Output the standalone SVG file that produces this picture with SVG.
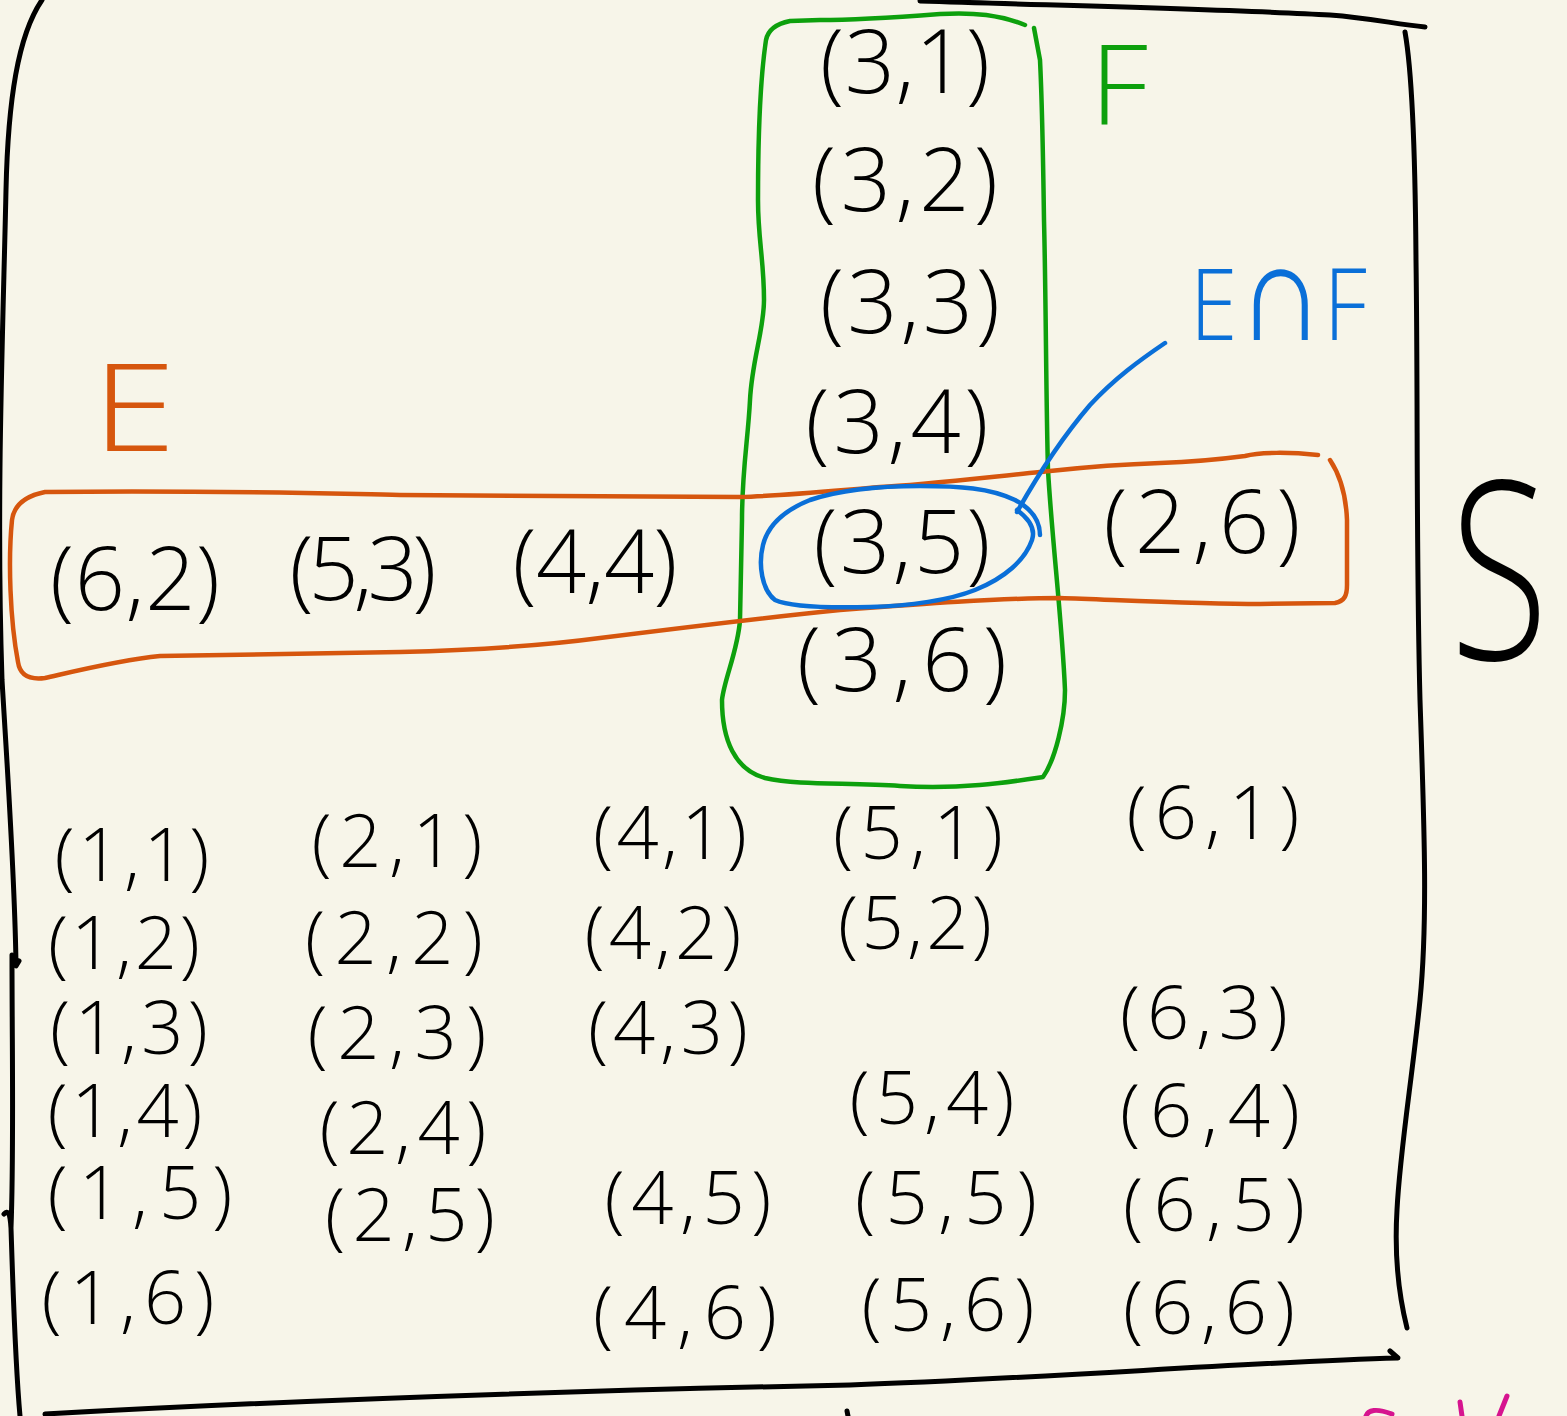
<svg xmlns="http://www.w3.org/2000/svg" width="1567" height="1416" viewBox="0 0 1567 1416">
  <style>
    .ink { fill: none; stroke-linecap: round; stroke-linejoin: round; }
    .frame { stroke: #000; stroke-width: 5; }
    .green { stroke: #0DA00D; stroke-width: 4.5; }
    .orange { stroke: #D6560E; stroke-width: 4.5; }
    .blue { stroke: #0A6FD8; stroke-width: 4.5; }
    .pink { stroke: #D6148F; stroke-width: 5; }
    text { font-family: "Open Sans", "Liberation Sans", sans-serif; font-weight: 300; }
    .t { font-size: 88px; fill: #000; text-anchor: middle; }
    .b { font-size: 74px; fill: #000; text-anchor: middle; }
  </style>
  <rect width="1567" height="1416" fill="#F7F5E9"/>

  <!-- sample space S: hand-drawn frame -->
  <g id="sample-space">
    <path class="ink frame" d="M42,0 C18,35 8,100 6,190 C3,330 -4,500 2,680 C8,780 15,880 16,966 l3,-5"/>
    <path class="ink frame" d="M12,955 C12,1050 14,1150 11,1228 M4,1214 C8,1210 10,1212 11,1228 C13,1290 15,1360 20,1416"/>
    <path class="ink frame" d="M920,1 C1080,6 1250,10 1330,15 C1370,18 1395,24 1425,27"/>
    <path class="ink frame" d="M1405,32 C1410,60 1415,120 1416,260 C1418,400 1416,550 1420,700 C1424,820 1428,920 1420,1000 C1412,1080 1400,1150 1397,1210 C1394,1260 1400,1300 1407,1328"/>
    <path class="ink frame" d="M45,1414 C300,1400 600,1390 850,1385 C1050,1378 1250,1362 1398,1358 l-8,-7"/>
    <path class="ink frame" d="M847,1411 L848,1416"/>
    <text transform="translate(1450,660) scale(0.72,1)" font-size="250" fill="#000">S</text>
  </g>

  <!-- event F -->
  <g id="event-F">
    <path class="ink green" d="M1025,25 C1000,15 975,12 940,14 C900,17 860,20 820,20 L790,21 C775,24 768,30 766,40 C760,80 758,130 758,200 C758,240 764,260 764,300 C764,330 752,360 750,400 C748,440 742,470 742,520 L740,620 C738,650 724,680 722,700 C722,740 735,770 765,778 C800,786 850,782 900,786 C960,790 1010,782 1043,777 C1055,760 1065,720 1065,690 C1062,620 1052,540 1048,470 C1046,400 1046,300 1044,220 C1043,150 1042,100 1040,60 L1034,28"/>
    <text x="1090" y="124" font-size="110" textLength="58" lengthAdjust="spacingAndGlyphs" fill="#0DA00D">F</text>
  </g>

  <!-- event E -->
  <g id="event-E">
    <path class="ink orange" d="M1318,455 C1290,452 1260,452 1245,456 C1215,460 1190,462 1160,463 C1100,465 1060,470 1040,472 C980,478 920,485 880,487 C820,492 780,496 740,497 L400,495 C300,493 200,490 45,492 C25,496 14,505 12,520 C8,560 10,620 18,662 C20,676 30,680 45,678 C80,670 120,660 160,656 L400,652 C480,650 540,646 600,638 C680,628 760,618 840,610 C920,604 1000,598 1060,598 C1120,600 1200,604 1260,604 L1335,603 C1345,601 1347,595 1347,585 L1347,520 C1346,495 1340,475 1330,460"/>
    <text x="92" y="451" font-size="122" textLength="84" lengthAdjust="spacingAndGlyphs" fill="#D6560E">E</text>
  </g>

  <!-- intersection E∩F -->
  <g id="event-EF">
    <path class="ink blue" d="M1040,535 C1040,520 1030,508 1015,500 C990,488 960,486 920,486 C880,486 840,490 810,500 C785,510 768,525 763,545 C758,565 762,590 775,600 C790,607 830,608 870,607 C910,606 950,600 975,590 C1005,578 1025,560 1032,540 C1036,528 1028,518 1017,510"/>
    <text x="1190" y="340" font-size="100" textLength="177" lengthAdjust="spacingAndGlyphs" fill="#0A6FD8">E<tspan font-size="140">∩</tspan>F</text>
  </g>

  <!-- connectors -->
  <g id="connectors">
    <path class="ink blue" d="M1017,512 C1035,480 1060,440 1090,405 C1115,378 1140,360 1165,343"/>
  </g>

  <!-- outcomes in F -->
  <g id="o31"><text class="t" x="905" y="93" textLength="170">(3,1)</text></g>
  <g id="o32"><text class="t" x="905" y="211" textLength="186">(3,2)</text></g>
  <g id="o33"><text class="t" x="910" y="333" textLength="180">(3,3)</text></g>
  <g id="o34"><text class="t" x="897" y="453" textLength="183">(3,4)</text></g>
  <g id="o35"><text class="t" x="902" y="573" textLength="177">(3,5)</text></g>
  <g id="o36"><text class="t" x="902" y="691" textLength="210">(3,6)</text></g>

  <!-- outcomes in E -->
  <g id="o62"><text class="t" x="135" y="610" textLength="170">(6,2)</text></g>
  <g id="o53"><text class="t" x="363" y="600" textLength="147">(5,3)</text></g>
  <g id="o44"><text class="t" x="595" y="593" textLength="165">(4,4)</text></g>
  <g id="o26"><text class="t" x="1202" y="553" textLength="197">(2,6)</text></g>

  <!-- remaining outcomes -->
  <g id="o11"><text class="b" x="132" y="881" textLength="155">(1,1)</text></g>
  <g id="o12"><text class="b" x="124" y="969" textLength="152">(1,2)</text></g>
  <g id="o13"><text class="b" x="129" y="1054" textLength="158">(1,3)</text></g>
  <g id="o14"><text class="b" x="125" y="1137" textLength="155">(1,4)</text></g>
  <g id="o15"><text class="b" x="140" y="1219" textLength="185">(1,5)</text></g>
  <g id="o16"><text class="b" x="128" y="1324" textLength="173">(1,6)</text></g>

  <g id="o21"><text class="b" x="397" y="867" textLength="171">(2,1)</text></g>
  <g id="o22"><text class="b" x="394" y="964" textLength="178">(2,2)</text></g>
  <g id="o23"><text class="b" x="397" y="1059" textLength="179">(2,3)</text></g>
  <g id="o24"><text class="b" x="403" y="1154" textLength="167">(2,4)</text></g>
  <g id="o25"><text class="b" x="410" y="1241" textLength="170">(2,5)</text></g>

  <g id="o41"><text class="b" x="670" y="859" textLength="154">(4,1)</text></g>
  <g id="o42"><text class="b" x="663" y="959" textLength="157">(4,2)</text></g>
  <g id="o43"><text class="b" x="668" y="1054" textLength="160">(4,3)</text></g>
  <g id="o45"><text class="b" x="688" y="1224" textLength="167">(4,5)</text></g>
  <g id="o46"><text class="b" x="685" y="1339" textLength="184">(4,6)</text></g>

  <g id="o51"><text class="b" x="918" y="859" textLength="170">(5,1)</text></g>
  <g id="o52"><text class="b" x="915" y="949" textLength="154">(5,2)</text></g>
  <g id="o54"><text class="b" x="932" y="1124" textLength="165">(5,4)</text></g>
  <g id="o55"><text class="b" x="946" y="1224" textLength="182">(5,5)</text></g>
  <g id="o56"><text class="b" x="948" y="1331" textLength="173">(5,6)</text></g>

  <g id="o61"><text class="b" x="1213" y="839" textLength="173">(6,1)</text></g>
  <g id="o63"><text class="b" x="1204" y="1039" textLength="168">(6,3)</text></g>
  <g id="o64"><text class="b" x="1210" y="1137" textLength="180">(6,4)</text></g>
  <g id="o65"><text class="b" x="1214" y="1231" textLength="182">(6,5)</text></g>
  <g id="o66"><text class="b" x="1209" y="1334" textLength="172">(6,6)</text></g>

  <!-- strokes running off the bottom edge -->
  <g id="margin-marks">
    <path class="ink pink" d="M1366,1416 C1368,1410 1376,1408 1392,1414"/>
    <path class="ink pink" d="M1460,1402 L1462,1416"/>
    <path class="ink pink" d="M1507,1396 L1499,1416"/>
  </g>
</svg>
